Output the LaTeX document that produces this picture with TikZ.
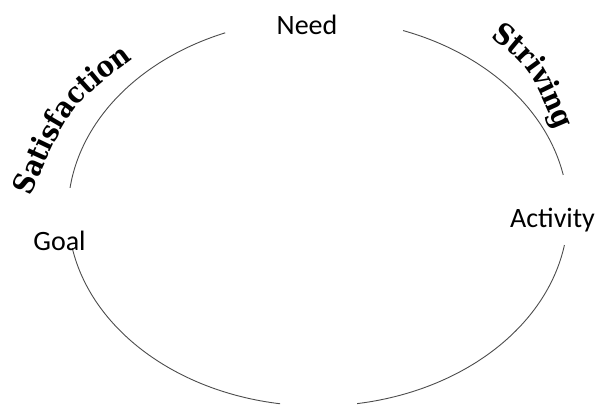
\documentclass[tikz,border=0pt]{standalone}
\usepackage{fontspec}
\setmainfont{Carlito}
\newfontfamily\wordart{DejaVu Serif Condensed}
\usetikzlibrary{decorations.text}
\newcommand\wafont{\wordart\bfseries\fontsize{29}{29}\selectfont}
\tikzset{
  cyc/.style={draw=black!70, line width=0.9pt},
  lbl/.style={font=\fontsize{28}{28}\selectfont, inner sep=0pt, anchor=base},
}
\begin{document}
\begin{tikzpicture}[x=1pt,y=1pt]
\useasboundingbox (0,0) rectangle (597,407);
\coordinate (c) at (318,194.5);
% cycle arcs
\draw[cyc] ([shift={(70.1:250pt and 193.5pt)}]c) arc[start angle=70.1, end angle=11.2, x radius=250pt, y radius=193.5pt];
\draw[cyc] ([shift={(-9.7:250pt and 193.5pt)}]c) arc[start angle=-9.7, end angle=-81, x radius=250pt, y radius=193.5pt];
\draw[cyc] ([shift={(-98.7:250pt and 193.5pt)}]c) arc[start angle=-98.7, end angle=-169.4, x radius=250pt, y radius=193.5pt];
\draw[cyc] ([shift={(172.7:250pt and 193.5pt)}]c) arc[start angle=172.7, end angle=111.8, x radius=250pt, y radius=193.5pt];
% labels
\node[lbl] (need) at (307,372) {Need};
\node[lbl] (activity) at (552.5,179) {Activity};
\node[lbl] (goal) at (59.5,156) {Goal};
% curved words
\coordinate (s1) at (28,205);
\coordinate (s2) at (70,302);
\coordinate (s3) at (138,352);
\path[decorate, decoration={text along path, text align=center, text={|\wafont|Satisfaction}}]
  (s1) .. controls (s2) .. (s3);
\coordinate (t1) at (481,376);
\coordinate (t2) at (529,342);
\coordinate (t3) at (561,266);
\path[decorate, decoration={text along path, text align=center, text={|\wafont|Striving}}]
  (t1) .. controls (t2) .. (t3);
\end{tikzpicture}
\end{document}
